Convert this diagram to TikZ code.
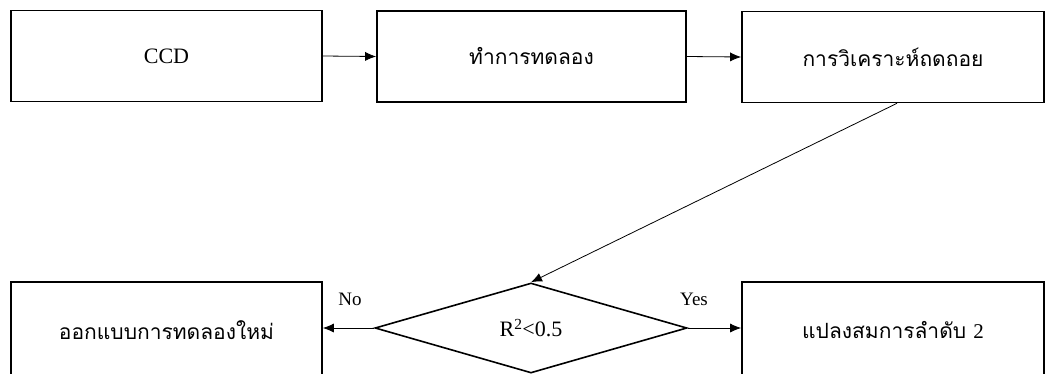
\documentclass[tikz,border=0pt]{standalone}
\usepackage{fontspec}
\setmainfont{Liberation Serif}
\newfontfamily\thaifont[Script=Thai]{Loma}
\usetikzlibrary{shapes.geometric,arrows.meta}
\begin{document}
\begin{tikzpicture}[x=1pt,y=-1pt,
  box/.style={draw,line width=1.6pt,inner sep=0pt,minimum width=#1,minimum height=91pt},
  box/.default=310pt,
  lat/.style={font=\fontsize{22}{26}\selectfont},
  th/.style={font=\thaifont\fontsize{21}{25}\selectfont},
  lbl/.style={font=\fontsize{19}{22}\selectfont,inner sep=0pt},
  conn/.style={line width=0.8pt,-{Latex[length=11pt,width=9pt]}}]
\useasboundingbox (0,0) rectangle (1045,373);
\clip (0,0) rectangle (1045,373);
\node[box=311pt,lat] (ccd) at (166.5,56) {CCD};
\node[box=309pt,th] (exp) at (531.5,56.5) {ทำการทดลอง};
\node[box=302pt,th] (reg) at (893,57) {การวิเคราะห์ถดถอย};
\node[box=311pt,minimum height=100pt,th,yshift=-4pt] (redo) at (166.5,328) {\raisebox{4pt}{ออกแบบการทดลองใหม่}};
\node[box=302pt,minimum height=100pt,th,yshift=-4pt] (trans) at (893,328) {\raisebox{4pt}{แปลงสมการลำดับ {\rmfamily 2}}};
\node[draw,diamond,line width=1.6pt,inner sep=0pt,minimum width=312pt,minimum height=90pt,lat] (dec) at (531,328) {R\textsuperscript{2}<0.5};
\node[lbl] (no) at (350,299) {No};
\node[lbl] (yes) at (694,299) {Yes};
\draw[conn] (ccd.east) -- (exp.west);
\draw[conn] (exp.east) -- (reg.west);
\draw[conn] ([xshift=4pt]reg.south) -- (dec.north);
\draw[conn] (dec.west) -- (redo.east|-dec.west);
\draw[conn] (dec.east) -- (trans.west|-dec.east);
\end{tikzpicture}
\end{document}
